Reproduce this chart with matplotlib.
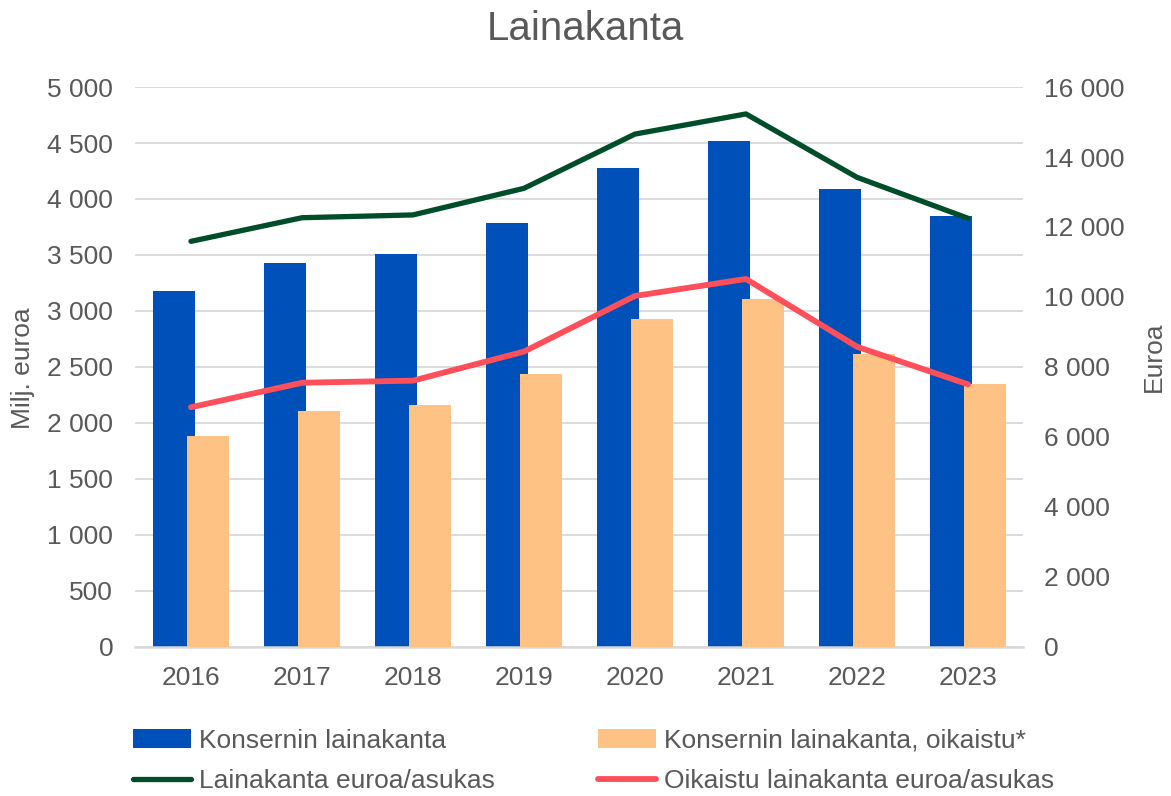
import numpy as np
import matplotlib
matplotlib.use("Agg")
import matplotlib.pyplot as plt
from matplotlib.ticker import FuncFormatter, MultipleLocator

years = ["2016", "2017", "2018", "2019", "2020", "2021", "2022", "2023"]
konserni = [3180, 3425, 3505, 3790, 4275, 4515, 4085, 3845]
konserni_oik = [1880, 2105, 2160, 2435, 2930, 3105, 2615, 2350]
per_asukas = [11590, 12265, 12345, 13105, 14655, 15230, 13420, 12250]
oik_per_asukas = [6850, 7550, 7610, 8440, 10030, 10515, 8580, 7505]

BLUE = "#0050BA"
ORANGE = "#FFC285"
GREEN = "#004D2A"
RED = "#FF4F5A"
TXT = "#595959"
GRID = "#D9D9D9"

plt.rcParams["font.family"] = ["Liberation Sans", "DejaVu Sans"]

def fmt_thousands(v, _pos=None):
    return f"{int(round(v)):,}".replace(",", " ")

fig = plt.figure(figsize=(11.71, 7.96), dpi=100)
ax = fig.add_axes([0.1157, 0.1872, 0.7583, 0.7035])
ax2 = ax.twinx()

x = np.arange(len(years))
w = 0.383
off = 0.153
b1 = ax.bar(x - off, konserni, width=w, color=BLUE, zorder=2, label="Konsernin lainakanta")
b2 = ax.bar(x + off, konserni_oik, width=w, color=ORANGE, zorder=3,
            label="Konsernin lainakanta, oikaistu*")

l1, = ax2.plot(x, per_asukas, color=GREEN, lw=3.8, solid_capstyle="round",
               label="Lainakanta euroa/asukas", zorder=4)
l2, = ax2.plot(x, oik_per_asukas, color=RED, lw=4.2, solid_capstyle="round",
               label="Oikaistu lainakanta euroa/asukas", zorder=4)

ax.set_xlim(-0.5, len(years) - 0.5)
ax.set_ylim(0, 5000)
ax2.set_ylim(0, 16000)
ax.yaxis.set_major_locator(MultipleLocator(500))
ax2.yaxis.set_major_locator(MultipleLocator(2000))
ax.yaxis.set_major_formatter(FuncFormatter(fmt_thousands))
ax2.yaxis.set_major_formatter(FuncFormatter(fmt_thousands))

ax.set_xticks(x)
ax.set_xticklabels(years)
ax.grid(axis="y", color=GRID, lw=1.3, zorder=0)
ax.set_axisbelow(True)

for a in (ax, ax2):
    for s in a.spines.values():
        s.set_visible(False)
    a.tick_params(length=0, labelsize=19, colors=TXT)
ax.spines["bottom"].set_visible(True)
ax.spines["bottom"].set_color(GRID)
ax.spines["bottom"].set_linewidth(1.8)
ax.tick_params(axis="y", pad=16)
ax2.tick_params(axis="y", pad=15)
ax.tick_params(axis="x", pad=14)

# lines on the twin axis stay above the bars
ax.set_zorder(1)
ax2.set_zorder(2)
ax2.patch.set_visible(False)

fig.text(0.5, 0.963, "Lainakanta", ha="center", va="center", fontsize=29, color=TXT)
fig.text(0.0196, 0.538, "Milj. euroa", rotation=90, ha="center", va="center",
         fontsize=19, color=TXT)
fig.text(0.985, 0.5515, "Euroa", rotation=90, ha="center", va="center",
         fontsize=19, color=TXT)

leg = fig.legend([b1, l1, b2, l2],
                 [b1.get_label(), l1.get_label(), b2.get_label(), l2.get_label()],
                 ncol=2, loc="lower left", bbox_to_anchor=(0.100, -0.016),
                 frameon=False, fontsize=19, handlelength=2.2, handletextpad=0.3,
                 columnspacing=3.9, labelspacing=0.62, borderaxespad=0.2)
for t in leg.get_texts():
    t.set_color(TXT)

fig.savefig("out.png", dpi=100)
